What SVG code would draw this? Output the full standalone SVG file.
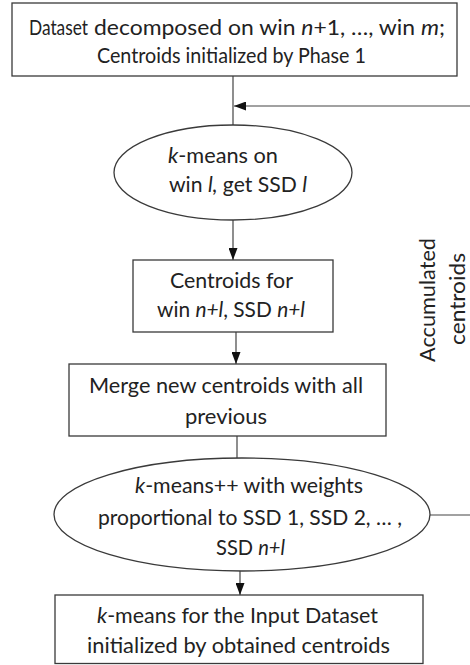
<svg xmlns="http://www.w3.org/2000/svg" width="470" height="665" viewBox="0 0 470 665">
<style>
.node{fill:#fff;stroke:#3a3a3a;stroke-width:1.3}
.t{font-family:Lato,"Open Sans","Liberation Sans",sans-serif;font-size:21px;fill:#222}
.i{font-style:italic}
.c{fill:none;stroke:#444;stroke-width:1.2}
</style>
<defs>
<marker id="ah" viewBox="0 0 12 9" refX="12" refY="4.5" markerWidth="12" markerHeight="9" markerUnits="userSpaceOnUse" orient="auto">
<path d="M0,0 L12,4.5 L0,9 z" fill="#111"/>
</marker>
</defs>
<rect width="470" height="665" fill="#fff"/>
<g id="connectors">
<line class="c" x1="233" y1="76" x2="233" y2="125"/>
<line class="c" x1="470" y1="106" x2="234" y2="106" marker-end="url(#ah)"/>
<line class="c" x1="233" y1="220" x2="233" y2="260" marker-end="url(#ah)"/>
<line class="c" x1="236" y1="332" x2="236" y2="364" marker-end="url(#ah)"/>
<line class="c" x1="237" y1="436" x2="237" y2="458"/>
<line class="c" x1="430" y1="515" x2="470" y2="515"/>
<line class="c" x1="240" y1="571" x2="240" y2="595" marker-end="url(#ah)"/>
</g>
<g id="start">
<rect class="node" x="12" y="3" width="445" height="73"/>
<text class="t" x="29" y="35" font-size="17" textLength="59" lengthAdjust="spacingAndGlyphs">Dataset</text>
<text class="t" x="94" y="35" textLength="351" lengthAdjust="spacingAndGlyphs">decomposed on win <tspan class="i">n</tspan>+1, …, win <tspan class="i">m</tspan>;</text>
<text class="t" x="97" y="63" font-size="19" textLength="269" lengthAdjust="spacingAndGlyphs">Centroids initialized by Phase 1</text>
</g>
<g id="kmeans-win">
<ellipse class="node" cx="233" cy="172.5" rx="119" ry="47.5"/>
<text class="t" x="168" y="163" textLength="110" lengthAdjust="spacingAndGlyphs"><tspan class="i">k</tspan>-means on</text>
<text class="t" x="169" y="192" textLength="138" lengthAdjust="spacingAndGlyphs">win <tspan class="i">l,</tspan> get SSD <tspan class="i">l</tspan></text>
</g>
<g id="centroids-win">
<rect class="node" x="133" y="260" width="200" height="72"/>
<text class="t" x="170" y="288" textLength="123" lengthAdjust="spacingAndGlyphs">Centroids for</text>
<text class="t" x="157" y="317" textLength="148" lengthAdjust="spacingAndGlyphs">win <tspan class="i">n+l</tspan>, SSD <tspan class="i">n+l</tspan></text>
</g>
<g id="merge">
<rect class="node" x="69" y="364" width="317" height="72"/>
<text class="t" x="89" y="393" textLength="274" lengthAdjust="spacingAndGlyphs">Merge new centroids with all</text>
<text class="t" x="185" y="424" textLength="82" lengthAdjust="spacingAndGlyphs">previous</text>
</g>
<g id="kmeanspp">
<ellipse class="node" cx="242" cy="514.5" rx="188" ry="56.5"/>
<text class="t" x="135" y="493" textLength="228" lengthAdjust="spacingAndGlyphs"><tspan class="i">k</tspan>-means++ with weights</text>
<text class="t" x="98" y="525" textLength="304" lengthAdjust="spacingAndGlyphs">proportional to SSD 1, SSD 2, … ,</text>
<text class="t" x="216" y="555" textLength="69" lengthAdjust="spacingAndGlyphs">SSD <tspan class="i">n+l</tspan></text>
</g>
<g id="final">
<rect class="node" x="55" y="595" width="368" height="68.5"/>
<text class="t" x="97" y="623" textLength="281" lengthAdjust="spacingAndGlyphs"><tspan class="i">k</tspan>-means for the Input Dataset</text>
<text class="t" x="87" y="653" textLength="303" lengthAdjust="spacingAndGlyphs">initialized by obtained centroids</text>
</g>
<g id="label-accumulated">
<text class="t" transform="translate(435,300) rotate(-90)" x="0" y="0" text-anchor="middle" font-size="22" textLength="124" lengthAdjust="spacingAndGlyphs">Accumulated</text>
<text class="t" transform="translate(465,299) rotate(-90)" x="0" y="0" text-anchor="middle" font-size="22" textLength="92" lengthAdjust="spacingAndGlyphs">centroids</text>
</g>
</svg>
